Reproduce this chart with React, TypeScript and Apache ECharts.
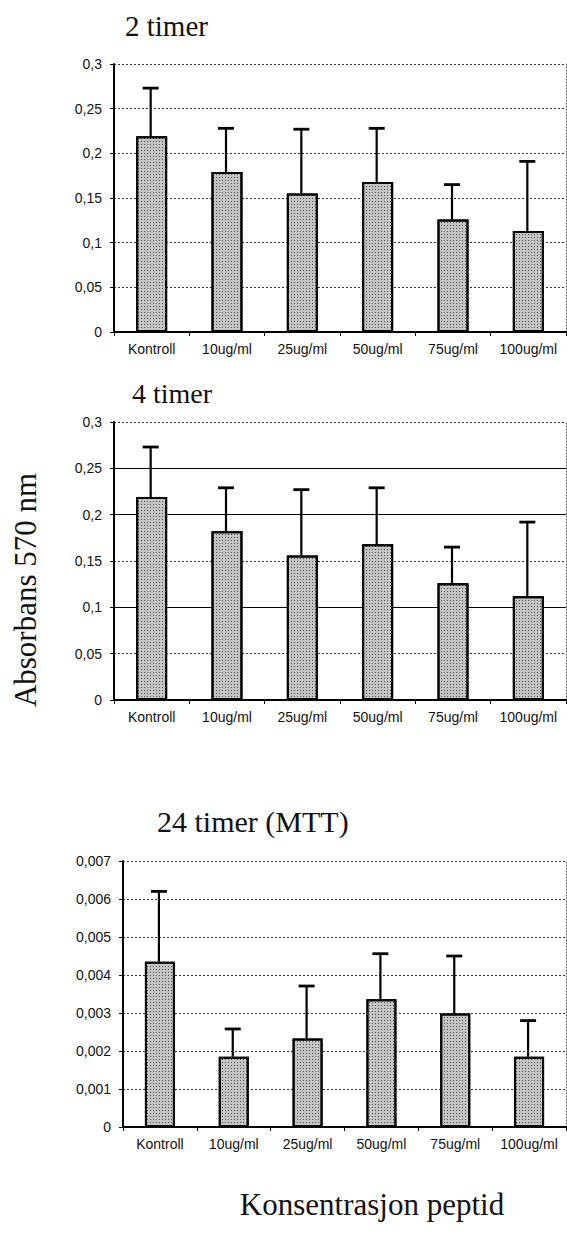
import React, { useEffect, useRef } from "react";
import * as echarts from "echarts";

const categories = ["Kontroll", "10ug/ml", "25ug/ml", "50ug/ml", "75ug/ml", "100ug/ml"];

// 2 timer
const means2h = [0.219, 0.179, 0.155, 0.168, 0.126, 0.113];
const sd2h = [0.054, 0.049, 0.072, 0.06, 0.039, 0.078];
// 4 timer
const means4h = [0.219, 0.182, 0.156, 0.168, 0.126, 0.112];
const sd4h = [0.054, 0.047, 0.071, 0.061, 0.039, 0.08];
const solidLines4h = [0.25, 0.2, 0.1];
// 24 timer (MTT)
const means24h = [0.00435, 0.00185, 0.00233, 0.00336, 0.00299, 0.00185];
const sd24h = [0.00185, 0.00073, 0.00138, 0.0012, 0.00151, 0.00095];

const yMaxA = 0.3;
const yStepA = 0.05;
const yMaxB = 0.007;
const yStepB = 0.001;

const titles = ["2 timer", "4 timer", "24 timer (MTT)"];
const yAxisTitle = "Absorbans 570 nm";
const xAxisTitle = "Konsentrasjon peptid";

const SERIF = '"Times New Roman", "Liberation Serif", serif';
const SANS = 'Arial, "Liberation Sans", sans-serif';

const fmt = (v: number) => (v === 0 ? "0" : String(+v.toFixed(4)).replace(".", ","));

function errorRender(params: any, api: any) {
  const xi = api.value(0);
  const base = api.coord([xi, api.value(1)]);
  const top = api.coord([xi, api.value(2)]);
  const half = 8;
  return {
    type: "group",
    children: [
      {
        type: "line",
        shape: { x1: base[0] - 1, y1: base[1], x2: top[0] - 1, y2: top[1] },
        style: { stroke: "#000", lineWidth: 2.2 },
      },
      {
        type: "line",
        shape: { x1: top[0] - 1 - half, y1: top[1], x2: top[0] - 1 + half, y2: top[1] },
        style: { stroke: "#000", lineWidth: 2.8 },
      },
    ],
  };
}

const barStyle = {
  color: "#c4c4c4",
  borderColor: "#000",
  borderWidth: 2,
  decal: {
    symbol: "rect",
    symbolSize: 1,
    dashArrayX: [1, 2],
    dashArrayY: [1, 2],
    color: "rgba(0,0,0,0.6)",
    rotation: 0,
  },
};

export default function App() {
  const ref = useRef<HTMLDivElement>(null);
  useEffect(() => {
    if (!ref.current) return;
    const chart = echarts.init(ref.current, undefined, { renderer: "svg" });

    const grids = [
      { left: 114, top: 64, width: 452, height: 268 },
      { left: 114, top: 422, width: 452, height: 278 },
      { left: 123, top: 861, width: 443, height: 266 },
    ];
    const panels = [
      { means: means2h, sd: sd2h, max: yMaxA, step: yStepA, barW: 31 },
      { means: means4h, sd: sd4h, max: yMaxA, step: yStepA, barW: 31 },
      { means: means24h, sd: sd24h, max: yMaxB, step: yStepB, barW: 30 },
    ];

    const xAxis: any[] = [];
    const yAxis: any[] = [];
    const series: any[] = [];

    panels.forEach((p, i) => {
      xAxis.push({
        type: "category",
        gridIndex: i,
        data: categories,
        axisLine: { lineStyle: { color: "#000", width: 2 } },
        axisTick: { show: true, length: 4, lineStyle: { color: "#000", width: 1 } },
        axisLabel: { interval: 0, margin: 10, color: "#111", fontFamily: SANS, fontSize: 14 },
      });
      yAxis.push({
        type: "value",
        gridIndex: i,
        min: 0,
        max: p.max,
        interval: p.step,
        axisLine: { show: true, lineStyle: { color: "#000", width: 2 } },
        axisTick: { show: true, length: 4, lineStyle: { color: "#000" } },
        axisLabel: { margin: 12, color: "#111", fontFamily: SANS, fontSize: 14, formatter: fmt },
        splitLine: { show: true, lineStyle: { color: "#333", type: [2, 2], width: 1 } },
      });
      // right border (dotted)
      yAxis.push({
        type: "value",
        gridIndex: i,
        position: "right",
        min: 0,
        max: p.max,
        interval: p.step,
        axisLine: { show: true, lineStyle: { color: "#555", type: [1, 2], width: 1 } },
        axisTick: { show: false },
        axisLabel: { show: false },
        splitLine: { show: false },
      });
      const yIdx = i * 2;
      series.push({
        type: "bar",
        xAxisIndex: i,
        yAxisIndex: yIdx,
        data: p.means,
        barWidth: p.barW,
        itemStyle: barStyle,
        z: 2,
        markLine:
          i === 1
            ? {
                silent: true,
                symbol: ["none", "none"],
                label: { show: false },
                lineStyle: { color: "#000", type: "solid", width: 1.2 },
                data: solidLines4h.map((v) => ({ yAxis: v })),
                z: 1,
              }
            : undefined,
      });
      series.push({
        type: "custom",
        xAxisIndex: i,
        yAxisIndex: yIdx,
        renderItem: errorRender,
        data: p.means.map((m, k) => [k, m, m + p.sd[k]]),
        z: 5,
      });
    });

    chart.setOption({
      animation: false,
      backgroundColor: "#fff",
      grid: grids,
      xAxis,
      yAxis,
      series,
      graphic: [
        { type: "text", x: 125, y: 26, style: { text: titles[0], font: `29px ${SERIF}`, fill: "#111", align: "left", verticalAlign: "middle" } },
        { type: "text", x: 132, y: 393, style: { text: titles[1], font: `28px ${SERIF}`, fill: "#111", align: "left", verticalAlign: "middle" } },
        { type: "text", x: 157, y: 821, style: { text: titles[2], font: `30px ${SERIF}`, fill: "#111", align: "left", verticalAlign: "middle" } },
        {
          type: "text",
          x: 25,
          y: 590,
          rotation: Math.PI / 2,
          style: { text: yAxisTitle, font: `31px ${SERIF}`, fill: "#111", align: "center", verticalAlign: "middle" },
        },
        { type: "text", x: 372, y: 1204, style: { text: xAxisTitle, font: `31px ${SERIF}`, fill: "#111", align: "center", verticalAlign: "middle" } },
      ],
    });
    return () => chart.dispose();
  }, []);
  return <div ref={ref} style={{ position: "absolute", left: 0, top: 0, width: 567, height: 1234, background: "#fff" }} />;
}
